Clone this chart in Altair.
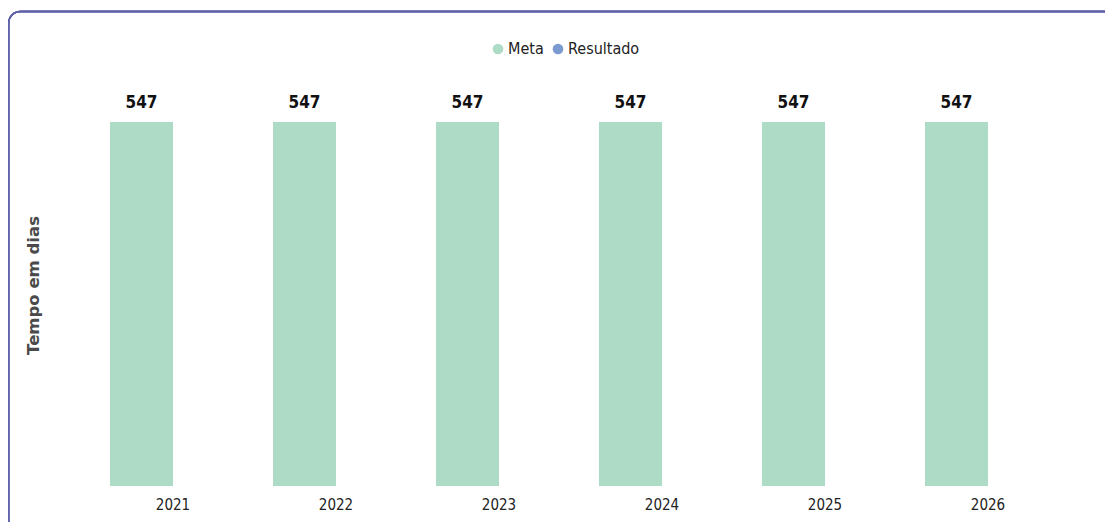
import altair as alt
import pandas as pd

years = ["2021", "2022", "2023", "2024", "2025", "2026"]
meta = [547, 547, 547, 547, 547, 547]
series = ["Meta", "Resultado"]
series_colors = ["#ADDBC5", "#7B9BD0"]

df = pd.DataFrame({"ano": years, "valor": meta, "serie": ["Meta"] * len(years)})

W, H = 1015, 364
narrow = "Liberation Sans Narrow, DejaVu Sans Condensed, Arial Narrow, sans-serif"

x_enc = alt.X("ano:N", sort=years, title=None,
              scale=alt.Scale(paddingInner=0.227, paddingOuter=0.227),
              axis=alt.Axis(domain=False, ticks=False, labelAngle=0, labelFontSize=15,
                            labelFont=narrow, labelColor="#222222", labelPadding=11))
xo = alt.XOffset("serie:N", scale=alt.Scale(domain=series))
y_enc = alt.Y("valor:Q", scale=alt.Scale(domain=[0, 547], nice=False),
              title="Tempo em dias",
              axis=alt.Axis(domain=False, ticks=False, labels=False, grid=False,
                            titleFont="DejaVu Sans", titleFontSize=16.5, titleFontWeight=600,
                            titleColor="#4a4a4a", titleX=-32, titleY=163))

bars = alt.Chart(df).mark_bar().encode(
    x=x_enc, xOffset=xo, y=y_enc,
    color=alt.Color("serie:N", scale=alt.Scale(domain=series, range=series_colors),
                    legend=alt.Legend(title=None, orient="none", legendX=417, legendY=-81,
                                      direction="horizontal", symbolType="circle",
                                      symbolSize=115, symbolStrokeWidth=0,
                                      labelFont=narrow, labelFontSize=16,
                                      labelColor="#222222", columnPadding=6, labelOffset=2)),
)

labels = alt.Chart(df).mark_text(dy=-19, fontSize=17, fontWeight="bold", font=narrow,
                                 color="#111111").encode(
    x=alt.X("ano:N", sort=years), xOffset=xo, y="valor:Q", text="valor:Q")

border = alt.Chart(df).mark_rect(fill=None, stroke="#6062AA", strokeWidth=1.6,
                                 cornerRadius=12).encode(
    x=alt.value(-64.5), x2=alt.value(1060), y=alt.value(-110.5), y2=alt.value(450))

chart = alt.layer(border, bars, labels).properties(
    width=W, height=H,
    autosize=alt.AutoSizeParams(type="none"),
    padding={"left": 65, "top": 114, "right": 17, "bottom": 36},
).configure_view(stroke=None)

chart.save("out.html", embed_options={"renderer": "svg", "actions": False})
